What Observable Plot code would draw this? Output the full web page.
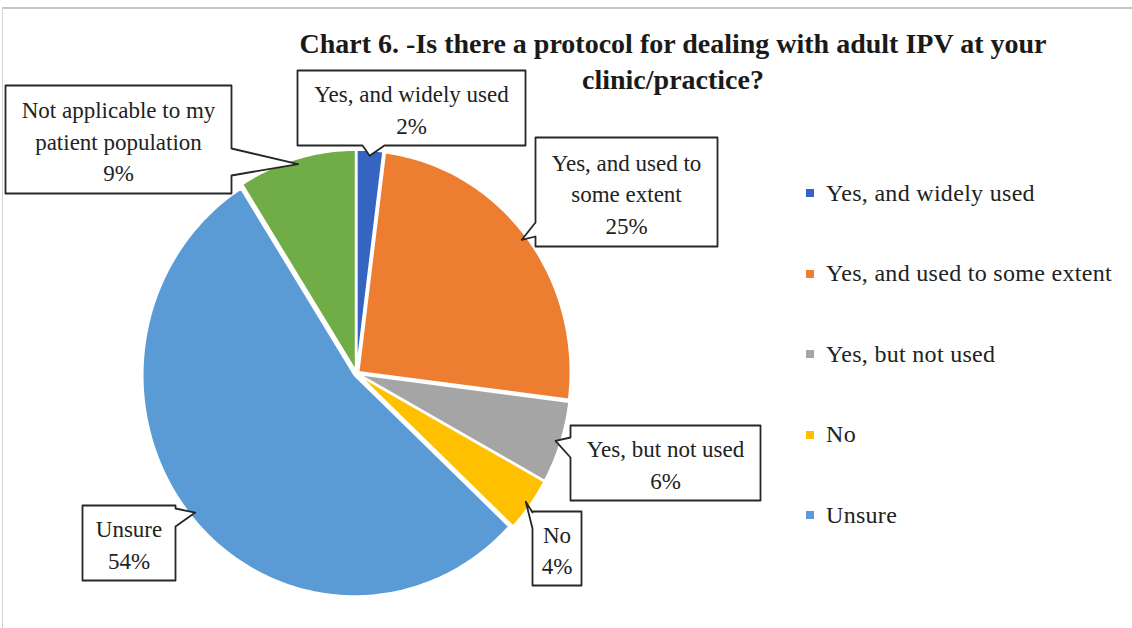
<!DOCTYPE html>
<html><head><meta charset="utf-8">
<script src="https://cdn.jsdelivr.net/npm/d3@7"></script>
<script src="https://cdn.jsdelivr.net/npm/@observablehq/plot@0.6"></script>
<style>
body{margin:0;background:#fff;}
#wrap{position:relative;width:1132px;height:628px;overflow:hidden;background:#fff;}
#frame{position:absolute;left:2px;top:7px;width:1140px;height:640px;border-top:2px solid #c4c4c4;border-left:1.5px solid #d4d4d4;}
#chart{position:absolute;left:0;top:0;}
#title{position:absolute;left:223px;top:26px;width:900px;text-align:center;font-family:"Liberation Serif",serif;font-weight:bold;font-size:28px;line-height:36px;color:#1a1a1a;}
#legend{position:absolute;left:806px;top:153px;}
#legend .lg-swatch{height:80.5px;display:flex;align-items:center;margin:0;padding:0;letter-spacing:0.3px;}
#legend .lg-swatch svg{margin-right:12px;}
</style></head><body>
<div id="wrap"><div id="frame"></div><div id="chart"></div><div id="title"></div><div id="legend"></div></div>
<script>
// ---- data ----
const categories = ["Yes, and widely used","Yes, and used to some extent","Yes, but not used","No","Unsure","Not applicable to my patient population"];
const values = [2,25,6,4,54,9];
const colors = ["#3564C1","#ED7D31","#A5A5A5","#FFC000","#5B9BD5","#70AD47"];
const labelText = ["Yes, and widely used","Yes, and used to\nsome extent","Yes, but not used","No","Unsure","Not applicable to my\npatient population"];
const legendCategories = categories.slice(0,5);
const legendColors = colors.slice(0,5);
const titleLines = ["Chart 6. -Is there a protocol for dealing with adult IPV at your","clinic/practice?"];

// ---- layout (pixels) ----
const W = 1132, H = 628;
const pie = {cx:356, cy:373, rx:212, ry:221, explode:0.012, tipR:0.975};
const calloutLayout = [
  {box:[297,70,525,145], side:"bottom", base:[362,384]},
  {box:[535,137,717,246], side:"left", base:[222,236]},
  {box:[570,425,760,500], side:"left", base:[437,457]},
  {box:[532,511,581,585], side:"left", base:[512,528]},
  {box:[82,505,175,580], side:"right", base:[508,526]},
  {box:[5,85,231,193], side:"right", base:[148,175]}
];

const xOpt = {domain:[-1,1], range:[pie.cx-pie.rx, pie.cx+pie.rx]};
const yOpt = {domain:[-1,1], range:[pie.cy+pie.ry, pie.cy-pie.ry]};
const sx = Plot.scale({x:xOpt}), sy = Plot.scale({y:yOpt});

const arcs = d3.pie().sort(null).value(d=>d)(values);
const slicePts = [];
const tips = [];
arcs.forEach((a,i)=>{
  const mid = (a.startAngle+a.endAngle)/2;
  const ox = pie.explode*Math.sin(mid), oy = pie.explode*Math.cos(mid);
  slicePts.push({cat:categories[i], x:ox, y:oy});
  const n = Math.max(2, Math.ceil((a.endAngle-a.startAngle)/(Math.PI/180)));
  for(let k=0;k<=n;k++){
    const t = a.startAngle+(a.endAngle-a.startAngle)*k/n;
    slicePts.push({cat:categories[i], x:ox+Math.sin(t), y:oy+Math.cos(t)});
  }
  tips.push([ox+pie.tipR*Math.sin(mid), oy+pie.tipR*Math.cos(mid)]);
});

// callout polygons
const calloutPts = [];
const calloutText = [];
calloutLayout.forEach((c,i)=>{
  const [x0,y0,x1,y1] = c.box, [b0,b1] = c.base;
  const tip = [sx.apply(tips[i][0]), sy.apply(tips[i][1])];
  let pts = [[x0,y0]];
  if(c.side==="top") pts.push([b0,y0],tip,[b1,y0]);
  pts.push([x1,y0]);
  if(c.side==="right") pts.push([x1,b0],tip,[x1,b1]);
  pts.push([x1,y1]);
  if(c.side==="bottom") pts.push([b1,y1],tip,[b0,y1]);
  pts.push([x0,y1]);
  if(c.side==="left") pts.push([x0,b1],tip,[x0,b0]);
  pts.forEach(p=>calloutPts.push({id:i, x:sx.invert(p[0]), y:sy.invert(p[1])}));
  calloutText.push({x:sx.invert((x0+x1)/2), y:sy.invert((y0+y1)/2), text:`${labelText[i]}\n${values[i]}%`});
});

const chart = Plot.plot({
  width:W, height:H, margin:0,
  x:{...xOpt, axis:null}, y:{...yOpt, axis:null},
  color:{domain:categories, range:colors},
  marks:[
    Plot.line(slicePts, {x:"x", y:"y", z:"cat", fill:"cat", stroke:"white", strokeWidth:2, curve:"linear-closed"}),
    Plot.line(calloutPts, {x:"x", y:"y", z:"id", fill:"white", stroke:"#262626", strokeWidth:1.8, curve:"linear-closed"}),
    Plot.text(calloutText, {x:"x", y:"y", text:"text", fontSize:23, lineHeight:1.37, fontFamily:"Liberation Serif", fill:"#222", style:"letter-spacing:0.3px"})
  ]
});
document.getElementById("chart").appendChild(chart);

document.getElementById("title").innerHTML = titleLines.join("<br>");

const legend = Plot.legend({
  color:{type:"ordinal", domain:legendCategories, range:legendColors},
  legend:"swatches", columns:1, swatchSize:8, className:"lg",
  style:{fontFamily:"Liberation Serif", fontSize:"24px", color:"#222"}
});
document.getElementById("legend").appendChild(legend);
</script>
</body></html>
